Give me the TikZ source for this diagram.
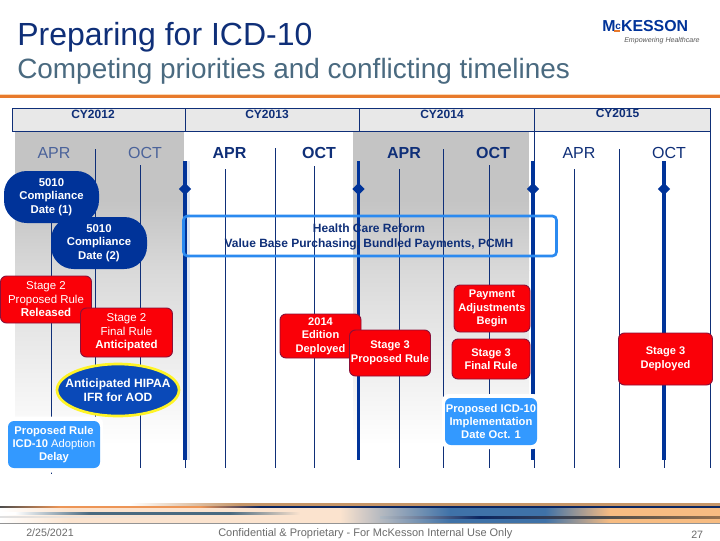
\documentclass[tikz,border=0pt]{standalone}
\usepackage{fontspec}
\setmainfont{Liberation Sans}
\usetikzlibrary{shapes.geometric,calc}
\definecolor{navy}{HTML}{003399}
\definecolor{txtnavy}{HTML}{0F2F78}
\definecolor{redbox}{HTML}{FA0008}
\definecolor{redline}{HTML}{8A1038}
\definecolor{skybox}{HTML}{3399FF}
\definecolor{sage}{HTML}{C4C4C4}
\definecolor{orbar}{HTML}{E87A2C}
\definecolor{peach}{HTML}{F7BC82}
\definecolor{pale}{HTML}{FBE3CE}
\definecolor{steel}{HTML}{3F72A8}
\definecolor{slate}{HTML}{4A6A80}
\definecolor{tan1}{HTML}{C69668}
\definecolor{orb2}{HTML}{ED9556}
\definecolor{navd}{HTML}{0C2660}
\definecolor{g12}{HTML}{E0E0E0}
\definecolor{g70}{HTML}{4D4D4D}
\definecolor{brn}{HTML}{94704E}
\definecolor{mixs}{HTML}{AEB8C2}
\pgfdeclarehorizontalshading{barband}{100bp}{color(0bp)=(white); color(25bp)=(white); color(29.86bp)=(pale); color(48.6bp)=(pale); color(56.25bp)=(steel); color(62.85bp)=(steel); color(67.36bp)=(peach); color(100bp)=(peach)}
\pgfdeclarehorizontalshading{bartan}{100bp}{color(0bp)=(white); color(34.03bp)=(white); color(41.67bp)=(tan1); color(100bp)=(tan1)}
\pgfdeclarehorizontalshading{bardark}{100bp}{color(0bp)=(g70); color(25bp)=(g70); color(29.17bp)=(orb2); color(38.9bp)=(orb2); color(43.06bp)=(navd); color(100bp)=(navd)}
\pgfdeclarehorizontalshading{barmid}{100bp}{color(0bp)=(white); color(27.2bp)=(white); color(38.2bp)=(slate); color(58.8bp)=(slate); color(69.1bp)=(pale); color(100bp)=(pale)}
\pgfdeclarehorizontalshading{barfaint}{100bp}{color(0bp)=(g12); color(25bp)=(g12); color(75bp)=(pale); color(100bp)=(pale)}
\pgfdeclarehorizontalshading{barlow}{100bp}{color(0bp)=(mixs); color(25bp)=(mixs); color(39.7bp)=(navd); color(57.35bp)=(g70); color(75bp)=(brn); color(100bp)=(brn)}
\tikzset{
 x=0.75pt,y=-0.75pt,
 thinv/.style={draw=txtnavy,line width=0.6pt},
 thickv/.style={draw=navy,line width=2.7pt},
 dia/.style={diamond,fill=navy,draw=none,minimum width=9.5pt,minimum height=9.5pt,inner sep=0pt},
 cy/.style={text=txtnavy,font=\fontsize{9}{10}\selectfont\bfseries,inner sep=0pt},
 mon/.style={text=txtnavy,font=\fontsize{12}{14}\selectfont,inner sep=0pt},
 monb/.style={mon,font=\fontsize{12}{14}\selectfont\bfseries},
 lbl/.style={align=center,inner sep=0pt,text=white,font=\fontsize{8.6}{10.1}\selectfont},
 redb/.style={lbl,fill=redbox,draw=redline,line width=0.7pt,rounded corners=4.5pt},
 redbb/.style={redb,font=\fontsize{8.3}{10.1}\selectfont\bfseries},
 skyb/.style={lbl,fill=skybox,rounded corners=4.5pt,font=\fontsize{8.4}{10}\selectfont\bfseries},
 blob/.style={lbl,fill=navy,rounded corners=17pt,font=\fontsize{8.5}{10.1}\selectfont\bfseries},
 halo/.style={fill=white,rounded corners=5pt,inner sep=0pt},
 foot/.style={anchor=base west,inner sep=0pt,text=black!58,font=\fontsize{8}{10}\selectfont},
}
\newcommand{\boxat}[6]{\node[#1,minimum width=#4*0.75pt,minimum height=#5*0.75pt] (#2) at (#3) {#6};}
\newcommand{\greyband}[2]{%
 \fill[sage] (#1,131) rectangle (#2,200);
 \shade[top color=sage,bottom color=black!15] (#1,200) rectangle (#2,270);
 \shade[top color=black!15,bottom color=black!8] (#1,270) rectangle (#2,350);
 \shade[top color=black!8,bottom color=white] (#1,350) rectangle (#2,445);
}
\begin{document}
\begin{tikzpicture}
\useasboundingbox (0,0) rectangle (720,540);
\fill[white] (0,0) rectangle (720,540);
% titles
\node[anchor=base west,inner sep=0pt,text=txtnavy,font=\fontsize{24}{28}\selectfont] (title) at (17,45) {Preparing for ICD-10};
\node[anchor=base west,inner sep=0pt,text=slate,font=\fontsize{20.95}{24}\selectfont] (subtitle) at (17,78) {Competing priorities and conflicting timelines};
% logo
\node[anchor=base west,inner sep=0pt,text=navy,font=\fontsize{11.9}{13}\selectfont\bfseries] (logo) at (602,31) {M\raisebox{1.5pt}{\fontsize{7.5}{8}\selectfont c}KESSON};
\fill[orbar] (613.5,29.5) rectangle (620,31.5);
\node[anchor=base west,inner sep=0pt,text=black!65,font=\fontsize{5.3}{6}\selectfont\itshape] (tag) at (624,42.5) {Empowering Healthcare};
% rule
\fill[peach!60] (0,94) rectangle (720,95);
\fill[orbar] (0,95) rectangle (720,98);
% grey bands
\greyband{15}{183.5}
\greyband{353}{529}
\fill[navy!12] (186.5,161) rectangle (189.5,460);
% header
\path[draw=txtnavy,fill=black!9,line width=0.7pt] (12.5,108.5) rectangle (710,131.5);
\coordinate (h1t) at (185.5,108.5); \coordinate (h1b) at (185.5,131.5);
\coordinate (h2t) at (359.5,108.5); \coordinate (h2b) at (359.5,131.5);
\coordinate (h3t) at (534.5,108.5); \coordinate (h3b) at (534.5,131.5);
\draw[thinv] (h1t)--(h1b); \draw[thinv] (h2t)--(h2b); \draw[thinv] (h3t)--(h3b);
\node[cy] (cy12) at (93,114.5) {CY2012};
\node[cy] (cy13) at (267,114.5) {CY2013};
\node[cy] (cy14) at (442,114.5) {CY2014};
\node[cy] (cy15) at (617.5,113.5) {CY2015};
% months
\node[mon,text=txtnavy!75] (m1) at (54,153) {APR};
\node[mon,text=txtnavy!75] (m2) at (145,153) {OCT};
\node[monb] (m3) at (229.5,153) {APR};
\node[monb] (m4) at (319,153) {OCT};
\node[monb] (m5) at (404,153) {APR};
\node[monb] (m6) at (493,153) {OCT};
\node[mon] (m7) at (579,153) {APR};
\node[mon] (m8) at (669,153) {OCT};
% thin lines
\foreach \x/\y in {51.5/222,95/149,140/165,225/169,275/148,314/166,399/169,443/149,489/165,534.5/131,574/169,619.5/149,710/131}
  \draw[thinv] (\x,\y)--(\x,468);
\draw[thinv] (185.5,460)--(185.5,468);
\draw[thinv] (664.5,460)--(664.5,468);
\draw[thinv] (51.5,472)--(51.5,474);
% thick lines
\foreach \x/\n in {185/a,358.5/b,533/c,664/d}{
  \draw[thickv] (\x,161)--(\x,460);
  \node[dia] (d\n) at (\x,189) {};
}
% health care box
\node[draw=skybox!85!navy,line width=2pt,rounded corners=3pt,minimum width=373*0.75pt,minimum height=40*0.75pt,inner sep=0pt] (hc) at (370,236) {};
\node[align=center,inner sep=0pt,text=txtnavy,font=\fontsize{9}{11.25}\selectfont\bfseries] (hct) at (369,237) {Health Care Reform\\Value Base Purchasing, Bundled Payments, PCMH};
% blobs
\boxat{blob}{c1}{51.5,197}{95}{52}{5010\\Compliance\\Date (1)}
\boxat{blob}{c2}{99,243}{96}{52}{5010\\Compliance\\Date (2)}
% red
\boxat{redb}{s2p}{46,299.5}{91}{47}{Stage 2\\Proposed Rule\\\textbf{Released}}
\boxat{redb}{s2f}{126.5,332.5}{92}{49}{Stage 2\\Final Rule\\\textbf{Anticipated}}
\definecolor{hipaablue}{HTML}{0A49B8}
\node[ellipse,fill=hipaablue,draw=yellow!85!white,line width=2pt,minimum width=122*0.75pt,minimum height=52*0.75pt,inner sep=0pt] (hipaa) at (118,390) {};
\node[lbl,font=\fontsize{9}{10.4}\selectfont\bfseries] (hipaat) at (118,390.5) {Anticipated HIPAA\\IFR for AOD};
\node[halo,minimum width=98*0.75pt,minimum height=56*0.75pt] (halo1) at (54,444.5) {};
\boxat{skyb}{pr}{54,444.5}{92}{47}{Proposed Rule\\ICD-10 \textmd{Adoption}\\Delay}
\boxat{redbb}{e14}{320.5,336}{81}{44}{2014\\Edition\\Deployed}
\boxat{redbb}{s3p}{390,353}{81}{46}{Stage 3\\Proposed Rule}
\boxat{redbb}{pay}{492,308.5}{76}{47}{Payment\\Adjustments\\Begin}
\boxat{redbb}{s3f}{491,359}{78}{40}{Stage 3\\Final Rule}
\boxat{redbb}{s3d}{665.5,359}{94}{52}{Stage 3\\Deployed}
\node[halo,minimum width=98*0.75pt,minimum height=55*0.75pt] (halo2) at (491,421.5) {};
\boxat{skyb}{pi}{491,421.5}{92}{47}{Proposed ICD-10\\Implementation\\Date Oct. 1}
% bottom bar
\shade[shading=barband] (0,507) rectangle (720,523);
\shade[shading=bartan] (0,503.3) rectangle (720,505);
\shade[shading=bardark] (0,506) rectangle (720,507.2);
\shade[shading=barmid] (0,512.3) rectangle (340,514);
\shade[shading=barfaint] (0,516) rectangle (200,517.5);
\shade[shading=barlow] (380,516.5) rectangle (720,518);
\fill[black!42] (0,523) rectangle (720,524);
% footer
\node[foot] (date) at (26,536.5) {2/25/2021};
\node[foot,font=\fontsize{8.25}{10}\selectfont] (conf) at (218,536.5) {Confidential \& Proprietary - For McKesson Internal Use Only};
\node[foot] (pg) at (691,538) {27};
\end{tikzpicture}
\end{document}
